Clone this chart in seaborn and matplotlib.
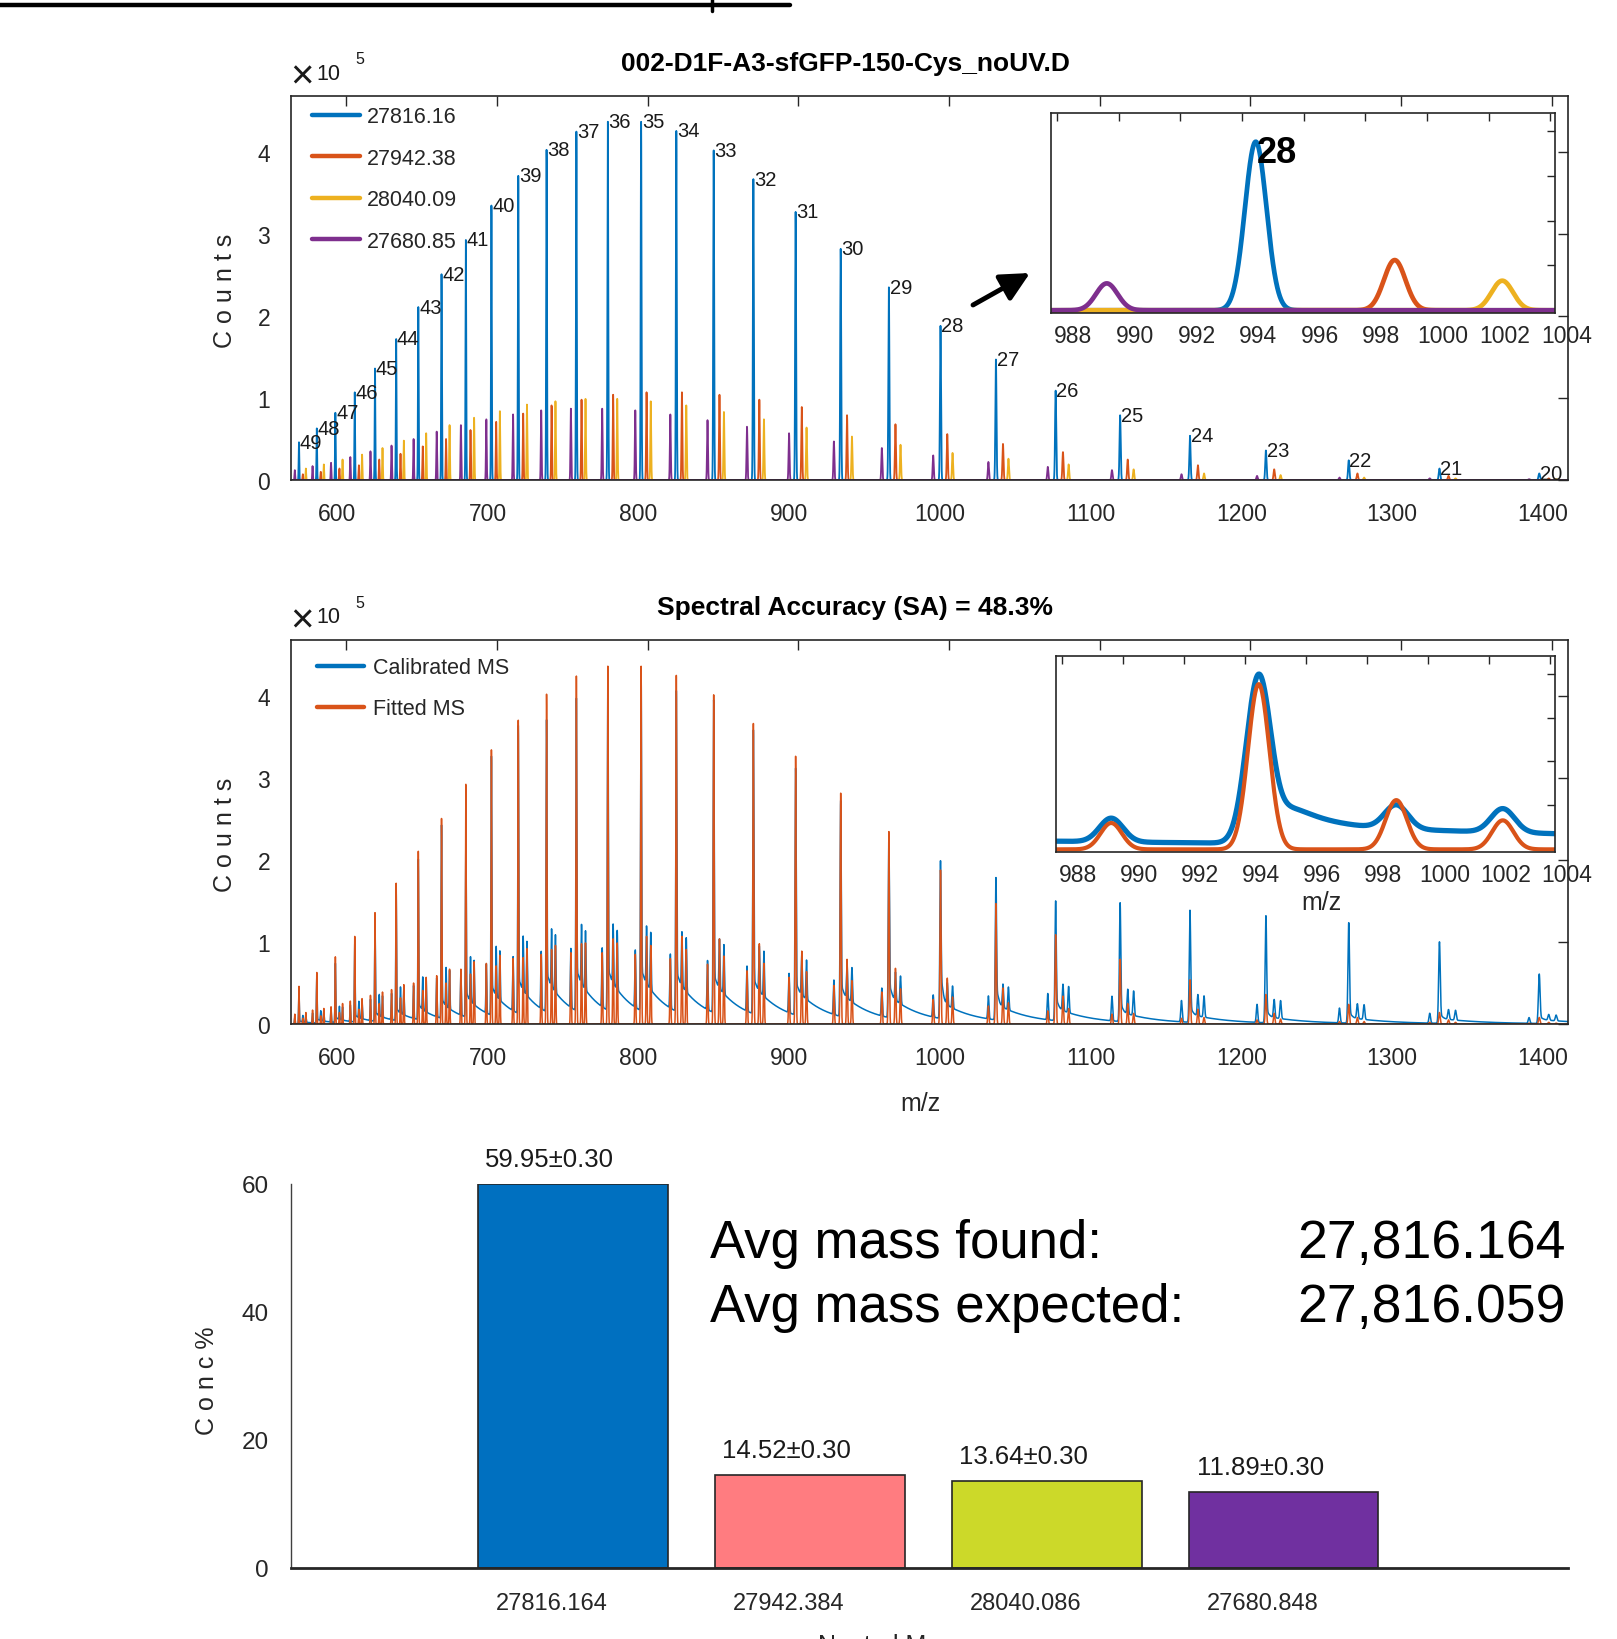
import numpy as np
import pandas as pd
import matplotlib
matplotlib.use("Agg")
import matplotlib.pyplot as plt
import seaborn as sns
from matplotlib.lines import Line2D
from matplotlib.transforms import ScaledTranslation

# ---------------- data ----------------
species_masses = [27816.16, 27942.38, 28040.09, 27680.85]
species_labels = ["27816.16", "27942.38", "28040.09", "27680.85"]
species_colors = ["#0072BD", "#D95319", "#EDB120", "#7E2F8E"]
PROTON = 1.00728

charges = [49, 48, 47, 46, 45, 44, 43, 42, 41, 40, 39, 38, 37, 36, 35,
           34, 33, 32, 31, 30, 29, 28, 27, 26, 25, 24, 23, 22, 21, 20]
# peak heights (x1e5 counts) of each deconvolved species per charge state
h_main = [0.46, 0.63, 0.82, 1.07, 1.36, 1.72, 2.11, 2.51, 2.93, 3.35, 3.71, 4.03, 4.25, 4.37, 4.37,
          4.26, 4.02, 3.67, 3.27, 2.82, 2.35, 1.88, 1.47, 1.09, 0.79, 0.54, 0.36, 0.24, 0.14, 0.08]
h_orange = [0.07, 0.10, 0.14, 0.18, 0.25, 0.32, 0.41, 0.50, 0.61, 0.71, 0.81, 0.91, 0.98, 1.04, 1.07,
            1.07, 1.04, 0.98, 0.89, 0.79, 0.68, 0.56, 0.44, 0.34, 0.25, 0.18, 0.13, 0.08, 0.05, 0.02]
h_yellow = [0.14, 0.19, 0.25, 0.31, 0.39, 0.48, 0.57, 0.67, 0.76, 0.84, 0.92, 0.96, 0.99, 0.99, 0.96,
            0.91, 0.83, 0.74, 0.64, 0.53, 0.43, 0.33, 0.26, 0.19, 0.13, 0.08, 0.06, 0.03, 0.02, 0.01]
h_purple = [0.12, 0.17, 0.21, 0.28, 0.35, 0.42, 0.50, 0.59, 0.67, 0.74, 0.80, 0.85, 0.87, 0.87, 0.85,
            0.80, 0.73, 0.65, 0.57, 0.47, 0.39, 0.30, 0.22, 0.16, 0.12, 0.07, 0.05, 0.03, 0.02, 0.01]
species_heights = [h_main, h_orange, h_yellow, h_purple]

# calibrated (measured) spectrum: main peak, side peaks, fast tail, slow tail (x1e5)
calib_main = [0.40, 0.55, 0.72, 0.95, 1.22, 1.58, 1.95, 2.35, 2.28, 3.15, 3.50, 3.55, 3.80, 4.15, 4.15,
              3.90, 3.80, 3.45, 3.00, 2.62, 2.18, 1.90, 1.72, 1.45, 1.44, 1.36, 1.30, 1.22, 0.99, 0.60]
calib_side = [0.08, 0.12, 0.16, 0.20, 0.26, 0.32, 0.40, 0.47, 0.54, 0.60, 0.66, 0.70, 0.72, 0.72, 0.70,
              0.66, 0.60, 0.55, 0.48, 0.42, 0.34, 0.27, 0.28, 0.32, 0.30, 0.26, 0.22, 0.18, 0.12, 0.07]
calib_tail = [0.03, 0.04, 0.05, 0.06, 0.08, 0.10, 0.12, 0.15, 0.18, 0.20, 0.22, 0.24, 0.25, 0.25, 0.25,
              0.25, 0.25, 0.25, 0.25, 0.30, 0.40, 0.80, 0.50, 0.30, 0.25, 0.20, 0.18, 0.15, 0.12, 0.08]
calib_floor = [0.03, 0.04, 0.05, 0.07, 0.09, 0.12, 0.16, 0.20, 0.26, 0.32, 0.38, 0.42, 0.45, 0.45, 0.45,
               0.42, 0.40, 0.37, 0.33, 0.30, 0.28, 0.215, 0.20, 0.16, 0.12, 0.10, 0.08, 0.07, 0.06, 0.05]

inset_charge = 28
x_ticks = [600, 700, 800, 900, 1000, 1100, 1200, 1300, 1400]
y_ticks = [0, 1, 2, 3, 4]
inset_ticks = [988, 990, 992, 994, 996, 998, 1000, 1002, 1004]

bar_masses = ["27816.164", "27942.384", "28040.086", "27680.848"]
bar_conc = [59.95, 14.52, 13.64, 11.89]
bar_err = [0.30, 0.30, 0.30, 0.30]
bar_colors = ["#0070C0", "#FF7C80", "#CCD929", "#7030A0"]

title_top = "002-D1F-A3-sfGFP-150-Cys_noUV.D"
title_mid = "Spectral Accuracy (SA) = 48.3%"
avg_found = "27,816.164"
avg_expected = "27,816.059"

# ---------------- style ----------------
sns.set_theme(style="white")
plt.rcParams["font.family"] = ["Liberation Sans", "DejaVu Sans"]
TXT = "#1a1a1a"
AX = "#262626"

W, H = 1617, 1640
fig = plt.figure(figsize=(W / 100, H / 100), dpi=100)


def box(left, top, right, bottom):
    return [left / W, 1 - bottom / H, (right - left) / W, (bottom - top) / H]


WIDTH_DA = 9.8


def mz_of(mass, z):
    return (mass + z * PROTON) / z


def spectrum(x, mass, heights, widen=1.0):
    y = np.zeros_like(x)
    for z, h in zip(charges, heights):
        s = widen * WIDTH_DA / z
        y += h * np.exp(-0.5 * ((x - mz_of(mass, z)) / s) ** 2)
    return y


def calibrated(x):
    y = np.zeros_like(x)
    for m in species_masses[1:]:
        y += spectrum(x, m, calib_side, widen=1.1)
    for z, h, a, b in zip(charges, calib_main, calib_tail, calib_floor):
        mz = mz_of(species_masses[0], z)
        s = 1.15 * WIDTH_DA / z
        y += h * np.exp(-0.5 * ((x - mz) / s) ** 2)
        d = x - mz
        step = 1.0 / (1.0 + np.exp(np.clip(-1.8 * (d / s - 2.0), -50, 50)))
        dd = np.clip(d, 0, None)
        y += (a * np.exp(-dd / (28.0 / z)) + b * np.exp(-dd / (600.0 / z))) * step
    return y


def shift_labels(labels, dx_px):
    off = ScaledTranslation(dx_px / 100.0, 0, fig.dpi_scale_trans)
    for lab in labels:
        lab.set_transform(lab.get_transform() + off)


def style_main(ax):
    ax.set_xlim(563.4, 1410.9)
    ax.set_ylim(0, 4.69)
    ax.set_xticks(x_ticks)
    ax.set_yticks(y_ticks)
    ax.set_xlabel("")
    ax.set_ylabel("")
    ax.tick_params(direction="in", length=7, width=1, top=True, right=True,
                   labelsize=16.5, color=AX, labelcolor=AX)
    ax.tick_params(axis="x", pad=16)
    ax.tick_params(axis="y", pad=15)
    for s in ax.spines.values():
        s.set_linewidth(1.2)
        s.set_color(AX)
        s.set_visible(True)


def style_inset(ax):
    ax.set_xlim(987.8, 1004.15)
    ax.set_ylim(-0.03, 2.2)
    ax.set_xticks(inset_ticks)
    ax.set_yticks([0.5, 1.0, 1.5, 2.0])
    ax.set_yticklabels([])
    ax.set_xlabel("")
    ax.set_ylabel("")
    ax.tick_params(direction="in", length=6, width=1, top=True, right=True,
                   labelsize=16.5, color=AX, labelcolor=AX, pad=8)
    for s in ax.spines.values():
        s.set_linewidth(1.2)
        s.set_color(AX)
        s.set_visible(True)


x = np.arange(563.4, 1410.9, 0.02)
xi = np.linspace(987.8, 1004.15, 3000)

# ---------------- top panel ----------------
ax1 = fig.add_axes(box(291, 96.5, 1568, 481))
for mass, hts, col in zip(species_masses, species_heights, species_colors):
    sns.lineplot(x=x, y=spectrum(x, mass, hts), ax=ax1, color=col, lw=1.3,
                 estimator=None, sort=False, errorbar=None)
style_main(ax1)
for z, h in zip(charges, h_main):
    ax1.annotate(str(z), xy=(mz_of(species_masses[0], z), h), xytext=(0.5, 0),
                 textcoords="offset points", ha="left", va="center",
                 fontsize=14.5, color=TXT)
handles = [Line2D([], [], color=c, lw=3.2) for c in species_colors]
ax1.legend(handles, species_labels, loc="upper left", bbox_to_anchor=(0.0166, 0.972),
           frameon=False, fontsize=15.5, handlelength=2.2, handletextpad=0.35,
           labelspacing=0.95, borderaxespad=0, borderpad=0)

ins1 = fig.add_axes(box(1051, 114, 1555, 314))
for mass, hts, col in zip(species_masses, species_heights, species_colors):
    sns.lineplot(x=xi, y=spectrum(xi, mass, hts), ax=ins1, color=col, lw=3.4,
                 estimator=None, sort=False, errorbar=None)
style_inset(ins1)
i28 = charges.index(inset_charge)
ins1.annotate(str(inset_charge), xy=(mz_of(species_masses[0], inset_charge), h_main[i28]),
              xytext=(1, -8), textcoords="offset points", ha="left", va="center",
              fontsize=26, fontweight="bold", color="black")

# ---------------- middle panel ----------------
ax2 = fig.add_axes(box(291, 641, 1568, 1025))
fitted = sum(spectrum(x, m, hts) for m, hts in zip(species_masses, species_heights))
sns.lineplot(x=x, y=calibrated(x), ax=ax2, color="#0072BD", lw=1.1,
             estimator=None, sort=False, errorbar=None)
sns.lineplot(x=x, y=fitted, ax=ax2, color="#D95319", lw=1.1,
             estimator=None, sort=False, errorbar=None)
style_main(ax2)
h2 = [Line2D([], [], color="#0072BD", lw=3.2), Line2D([], [], color="#D95319", lw=3.2)]
ax2.legend(h2, ["Calibrated MS", "Fitted MS"], loc="upper left", bbox_to_anchor=(0.02, 0.955),
           frameon=False, fontsize=15.5, handlelength=2.2, handletextpad=0.4,
           labelspacing=0.92, borderaxespad=0, borderpad=0)

ins2 = fig.add_axes(box(1056, 657, 1555, 853))
fitted_i = sum(spectrum(xi, m, hts) for m, hts in zip(species_masses, species_heights))
sns.lineplot(x=xi, y=calibrated(xi), ax=ins2, color="#0072BD", lw=3.8,
             estimator=None, sort=False, errorbar=None)
sns.lineplot(x=xi, y=fitted_i, ax=ins2, color="#D95319", lw=3.0,
             estimator=None, sort=False, errorbar=None)
style_inset(ins2)

# ---------------- bar panel ----------------
axb = fig.add_axes(box(291, 1185, 1568, 1569))
bar_df = pd.DataFrame({"mass": bar_masses, "conc": bar_conc})
sns.barplot(data=bar_df, x="mass", y="conc", hue="mass", hue_order=bar_masses,
            order=bar_masses, palette=bar_colors, saturation=1, width=0.8,
            edgecolor=AX, linewidth=1.2, legend=False, errorbar=None, ax=axb)
axb.set_xlim(-1.19, 4.20)
axb.set_ylim(0, 60)
axb.set_yticks([0, 20, 40, 60])
axb.set_xlabel("")
axb.set_ylabel("")
axb.tick_params(axis="y", length=0, labelsize=17.5, pad=16, labelcolor=AX)
axb.tick_params(axis="x", length=0, labelsize=17, pad=17, labelcolor=AX)
for side in ["top", "right"]:
    axb.spines[side].set_visible(False)
axb.spines["left"].set_color("#404040")
axb.spines["left"].set_linewidth(1.0)
axb.spines["bottom"].set_color(AX)
axb.spines["bottom"].set_linewidth(2.0)
for i, (v, e) in enumerate(zip(bar_conc, bar_err)):
    axb.annotate(f"{v:.2f}\u00b1{e:.2f}", xy=(i, v), xytext=(-17, 18),
                 textcoords="offset points", ha="center", va="center",
                 fontsize=18.5, color=TXT)

# ---------------- figure texts ----------------
fig.text(845 / W, 1 - 64 / H, title_top, fontsize=19, fontweight="bold",
         ha="center", va="center", color="black")
fig.text(855 / W, 1 - 608 / H, title_mid, fontsize=19, fontweight="bold",
         ha="center", va="center", color="black")
for yo in (0, 544):
    fig.text(290 / W, 1 - (77 + yo) / H, "\u00d7", fontsize=29, ha="left", va="center", color=TXT)
    fig.text(316 / W, 1 - (74 + yo) / H, "10", fontsize=15.5, ha="left", va="center", color=TXT)
    fig.text(355 / W, 1 - (60 + yo) / H, "5", fontsize=11.5, ha="left", va="center", color=TXT)
fig.text(225 / W, 1 - 291 / H, "C o u n t s", rotation=90, fontsize=18,
         ha="center", va="center", color=AX)
fig.text(225 / W, 1 - 835 / H, "C o u n t s", rotation=90, fontsize=18,
         ha="center", va="center", color=AX)
fig.text(207 / W, 1 - 1381 / H, "C o n c %", rotation=90, fontsize=18,
         ha="center", va="center", color=AX)
fig.text(920 / W, 1 - 1104 / H, "m/z", fontsize=18, ha="center", va="center", color=AX)
fig.text(1321 / W, 1 - 903 / H, "m/z", fontsize=18, ha="center", va="center", color=AX)
fig.text(892 / W, 1 - 1653 / H, "Neutral Mass", fontsize=18, ha="center",
         va="baseline", color=AX)

fig.text(710 / W, 1 - 1258 / H, "Avg mass found:", fontsize=38, ha="left", va="baseline", color="black")
fig.text(1566 / W, 1 - 1258 / H, avg_found, fontsize=38.5, ha="right", va="baseline", color="black")
fig.text(710 / W, 1 - 1322 / H, "Avg mass expected:", fontsize=38, ha="left", va="baseline", color="black")
fig.text(1566 / W, 1 - 1322 / H, avg_expected, fontsize=38.5, ha="right", va="baseline", color="black")

# arrows pointing to insets
for yo in (0, 528):
    ax1.annotate("", xy=(1030, H - 274 - yo), xytext=(973, H - 306 - yo),
                 xycoords="figure pixels", textcoords="figure pixels",
                 arrowprops=dict(arrowstyle="-|>,head_length=0.7,head_width=0.35",
                                 lw=3.5, color="black", shrinkA=0, shrinkB=0,
                                 mutation_scale=25),
                 annotation_clip=False)

# top rule (cropped from previous figure)
fig.add_artist(Line2D([0, 790 / W], [1 - 6 / H, 1 - 6 / H], transform=fig.transFigure,
                      color="black", lw=3.2))
fig.add_artist(Line2D([712 / W, 712 / W], [1, 1 - 12 / H], transform=fig.transFigure,
                      color="black", lw=2.5))

# label offsets as in the reference rendering
shift_labels(ax1.get_xticklabels(), -9)
shift_labels(ax2.get_xticklabels(), -9)
shift_labels(ins1.get_xticklabels(), 16)
shift_labels(ins2.get_xticklabels(), 16)
shift_labels(axb.get_xticklabels(), -21)

fig.savefig("out.png", dpi=100)
